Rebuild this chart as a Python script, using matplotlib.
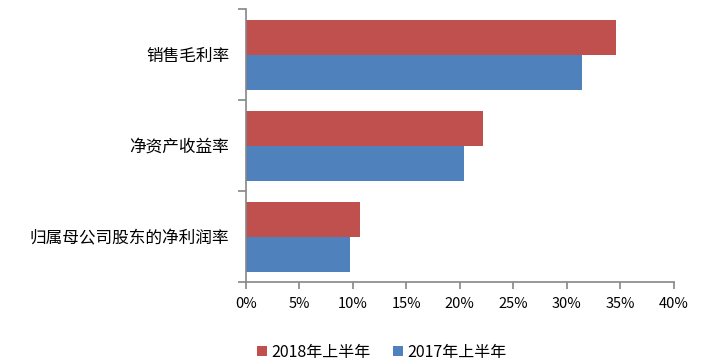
import matplotlib.pyplot as plt
import numpy as np
from matplotlib.ticker import FixedLocator, PercentFormatter

plt.rcParams['font.family'] = ['Noto Sans CJK SC', 'DejaVu Sans']

categories = ["销售毛利率", "净资产收益率", "归属母公司股东的净利润率"]
h1_2018 = [34.6, 22.2, 10.7]
h1_2017 = [31.4, 20.4, 9.7]
series_names = ["2018年上半年", "2017年上半年"]

red = "#C0504D"
blue = "#4F81BD"
grey = "#868686"

fig = plt.figure(figsize=(7.23, 3.64), dpi=100)
ax = fig.add_axes([0.340, 0.225, 0.592, 0.75])

y = np.arange(len(categories))[::-1]
h = 0.385
ax.barh(y + h / 2, h1_2018, height=h, color=red, label=series_names[0])
ax.barh(y - h / 2, h1_2017, height=h, color=blue, label=series_names[1])

ax.set_xlim(0, 40)
ax.set_ylim(-0.5, len(categories) - 0.5)
ax.set_xticks(np.arange(0, 41, 5))
ax.xaxis.set_major_formatter(PercentFormatter(decimals=0))
ax.set_yticks(y)
ax.set_yticklabels(categories, fontsize=12)
ax.yaxis.set_minor_locator(FixedLocator(np.arange(-0.5, len(categories), 1)))
ax.tick_params(axis='y', which='major', length=0, pad=12)
ax.tick_params(axis='y', which='minor', length=6, color=grey, width=1.2)
ax.tick_params(axis='x', length=5, color=grey, width=1.2, labelsize=10.5, pad=6)

for s in ['top', 'right']:
    ax.spines[s].set_visible(False)
for s in ['left', 'bottom']:
    ax.spines[s].set_color(grey)
    ax.spines[s].set_linewidth(1.2)

fig.legend(loc='lower center', bbox_to_anchor=(0.528, -0.03), ncol=2, frameon=False,
           fontsize=11.5, handlelength=0.6, handleheight=0.6, handletextpad=0.3,
           columnspacing=1.4)

fig.savefig("out.png", dpi=100)
